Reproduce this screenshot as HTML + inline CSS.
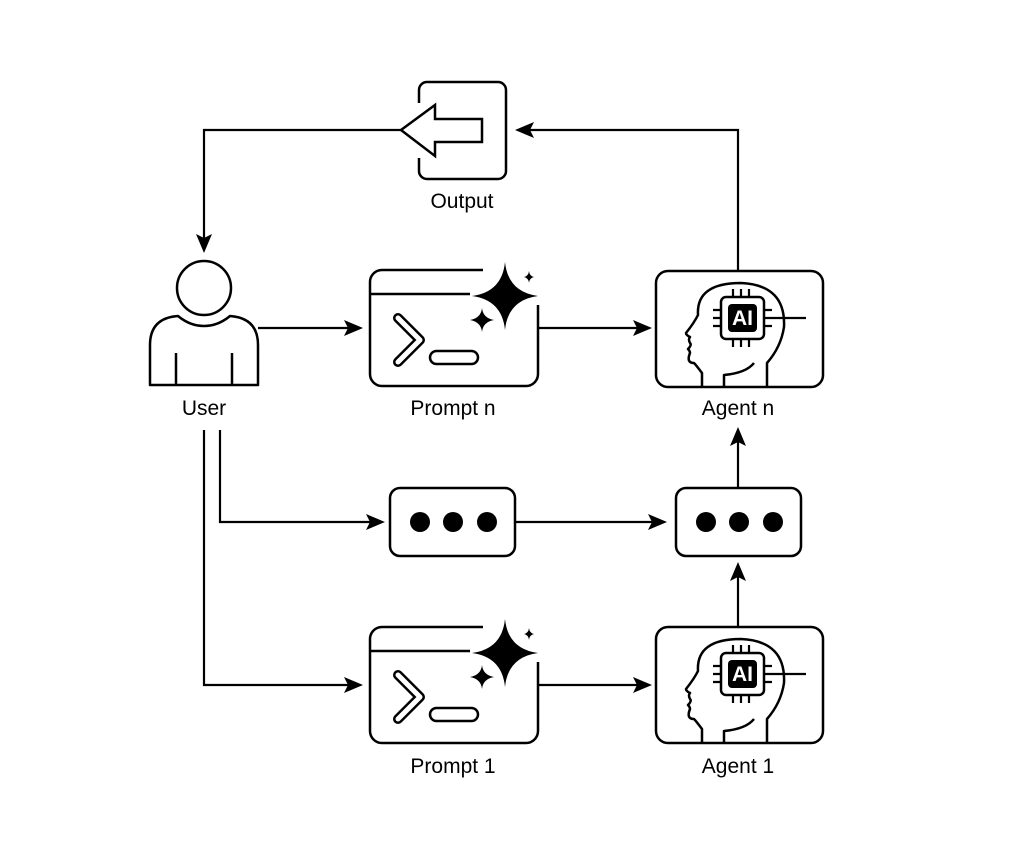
<!DOCTYPE html>
<html><head><meta charset="utf-8"><style>
html,body{margin:0;padding:0;background:#fff;}
svg{display:block}
text{font-family:"Liberation Sans",sans-serif;font-size:21px;fill:#000}
</style></head><body>
<svg width="1016" height="844" viewBox="0 0 1016 844" xmlns="http://www.w3.org/2000/svg">
<defs>
<g id="prompt">
 <path d="M113 0 H12 A12 12 0 0 0 0 12 V104 A12 12 0 0 0 12 116 H156 A12 12 0 0 0 168 104 V35" fill="none" stroke="#000" stroke-width="2.5"/>
 <line x1="0" y1="24" x2="100" y2="24" stroke="#000" stroke-width="2.5"/>
 <path d="M28 48 L50 70 L28 92" fill="none" stroke="#000" stroke-width="10" stroke-linejoin="round" stroke-linecap="round"/>
 <path d="M28 48 L50 70 L28 92" fill="none" stroke="#fff" stroke-width="5" stroke-linejoin="round" stroke-linecap="round"/>
 <rect x="60" y="81" width="48" height="13" rx="6.5" fill="#fff" stroke="#000" stroke-width="2.5"/>
 <path d="M135 -8 Q138 22 168 26 Q138 30 135 60 Q132 30 102 26 Q132 22 135 -8Z" fill="#000"/>
 <path d="M112 38 Q113 48 124 50 Q113 52 112 62 Q111 52 100 50 Q111 48 112 38Z" fill="#000"/>
 <path d="M159 1 Q159.5 6 164 7 Q159.5 8 159 13 Q158.5 8 154 7 Q158.5 6 159 1Z" fill="#000"/>
</g>
<g id="agent">
 <rect x="0" y="0" width="167" height="116" rx="12" fill="#fff" stroke="#000" stroke-width="2.5"/>
 <path d="M68 116 V104 Q90 102 98 92 M46 116 V102 Q40 94 38 92 Q30 92 34 82 Q34 80 32 78 Q36 74 34 72 Q32 68 34 66 Q30 64 30 62 Q38 52 42 44 Q40 12 85 12 Q130 14 128 56 Q125 76 111 92 V116" fill="none" stroke="#000" stroke-width="2.5" stroke-linejoin="round"/>
 <rect x="65" y="26" width="43" height="42" rx="5" fill="#fff" stroke="#000" stroke-width="2.5"/>
 <rect x="72" y="33" width="29" height="28" rx="4" fill="#000"/>
 <g stroke="#000" stroke-width="2.2">
  <path d="M77 18V26M85 18V26M93 18V26M77 68V76M85 68V76M93 68V76M57 39H65M57 47H65M57 55H65M108 39H116M108 55H116M108 47H150"/>
 </g>
 <text x="86.5" y="54" font-size="15" font-weight="bold" text-anchor="middle" style="fill:#fff">AI</text>
</g>
<g id="dots">
 <rect x="0" y="0" width="125" height="68" rx="10" fill="#fff" stroke="#000" stroke-width="2.5"/>
 <circle cx="30" cy="34" r="10"/><circle cx="63" cy="34" r="10"/><circle cx="97" cy="34" r="10"/>
</g>
</defs>

<g fill="none" stroke="#000" stroke-width="2.2">
 <path d="M401 130 H204 V240"/>
 <path d="M738 270 V130 H530"/>
 <path d="M258 328 H350"/>
 <path d="M538 328 H640"/>
 <path d="M220 430 V522 H372"/>
 <path d="M516 522 H655"/>
 <path d="M738 488 V440"/>
 <path d="M738 627 V575"/>
 <path d="M204 430 V685 H350"/>
 <path d="M538 685 H640"/>
</g>
<g fill="#000">
 <path d="M204 253 L196 234 L204 238 L212 234Z"/>
 <path d="M515 130 L534 122 L530 130 L534 138Z"/>
 <path d="M363 328 L344 320 L348 328 L344 336Z"/>
 <path d="M652 328 L633 320 L637 328 L633 336Z"/>
 <path d="M385 522 L366 514 L370 522 L366 530Z"/>
 <path d="M667 522 L648 514 L652 522 L648 530Z"/>
 <path d="M738 427 L730 446 L738 442 L746 446Z"/>
 <path d="M738 562 L730 581 L738 577 L746 581Z"/>
 <path d="M363 685 L344 677 L348 685 L344 693Z"/>
 <path d="M652 685 L633 677 L637 685 L633 693Z"/>
</g>

<!-- Output -->
<path d="M419 103 V90 A8 8 0 0 1 427 82 H498 A8 8 0 0 1 506 90 V171 A8 8 0 0 1 498 179 H427 A8 8 0 0 1 419 171 V158" fill="none" stroke="#000" stroke-width="2.5"/>
<path d="M401 130 L435 105 V119 H482 V142 H435 V156 Z" fill="#fff" stroke="#000" stroke-width="2.5"/>
<text x="462" y="208" text-anchor="middle">Output</text>

<!-- User -->
<circle cx="204" cy="288" r="27" fill="#fff" stroke="#000" stroke-width="2.5"/>
<path d="M150 385 V345 Q150 318 178 316 Q190 326 204 326 Q218 326 230 316 Q258 318 258 345 V385 Z" fill="#fff" stroke="#000" stroke-width="2.5" stroke-linejoin="round"/>
<path d="M176 353 V385 M232 353 V385" stroke="#000" stroke-width="2.5"/>
<text x="204" y="415" text-anchor="middle">User</text>

<use href="#prompt" transform="translate(370 270)"/>
<text x="453" y="415" text-anchor="middle">Prompt n</text>
<use href="#prompt" transform="translate(370 627)"/>
<text x="453" y="773" text-anchor="middle">Prompt 1</text>

<use href="#agent" transform="translate(656 271)"/>
<text x="738" y="415" text-anchor="middle">Agent n</text>
<use href="#agent" transform="translate(656 627)"/>
<text x="738" y="773" text-anchor="middle">Agent 1</text>

<use href="#dots" transform="translate(390 488)"/>
<use href="#dots" transform="translate(676 488)"/>
</svg>
</body></html>
